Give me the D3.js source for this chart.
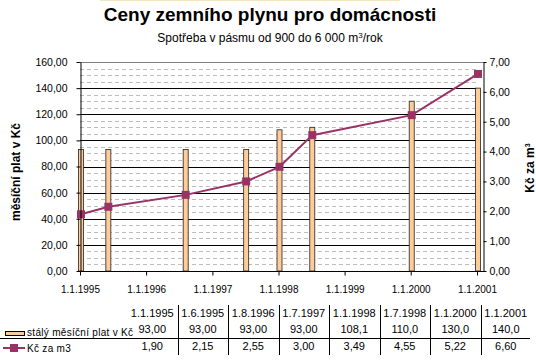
<!DOCTYPE html>
<html>
<head>
<meta charset="utf-8">
<script src="https://cdn.jsdelivr.net/npm/d3@7"></script>
<style>
  body { margin: 0; background: #fff; }
  svg { font-family: "Liberation Sans", Arial, sans-serif; }
</style>
</head>
<body>
<svg id="chart" width="536" height="363"></svg>
<script>
// data
const dates = ["1995-01-01", "1995-06-01", "1996-08-01", "1997-07-01", "1998-01-01", "1998-07-01", "2000-01-01", "2001-01-01"];
const dateLabels = ["1.1.1995", "1.6.1995", "1.8.1996", "1.7.1997", "1.1.1998", "1.7.1998", "1.1.2000", "1.1.2001"];
const platValues = [93, 93, 93, 93, 108.1, 110, 130, 140];
const platLabels = ["93,00", "93,00", "93,00", "93,00", "108,1", "110,0", "130,0", "140,0"];
const cenaValues = [1.90, 2.15, 2.55, 3.00, 3.49, 4.55, 5.22, 6.60];
const cenaLabels = ["1,90", "2,15", "2,55", "3,00", "3,49", "4,55", "5,22", "6,60"];
const yearTicks = [1995, 1996, 1997, 1998, 1999, 2000, 2001];
const leftTicks = [0, 20, 40, 60, 80, 100, 120, 140, 160];
const rightTicks = [0, 1, 2, 3, 4, 5, 6, 7];

const svg = d3.select("#chart");
const parse = d3.timeParse("%Y-%m-%d");
const comma2 = v => d3.format(".2f")(v).replace(".", ",");

const plotLeft = 80, plotRight = 484, plotTop = 62, plotBottom = 271, gridRight = 477;

const x = d3.scaleTime()
    .domain([new Date(1995, 0, 1), new Date(2001, 0, 1)])
    .range([plotLeft, gridRight]);
const y = d3.scaleLinear().domain([0, 160]).range([plotBottom, plotTop]);
const y2 = d3.scaleLinear().domain([0, 7]).range([plotBottom, plotTop]);

// faint line at top edge
svg.append("line")
    .attr("x1", 100).attr("x2", 400).attr("y1", 0.5).attr("y2", 0.5)
    .attr("stroke", "#f3e6bf");

// titles
svg.append("text")
    .attr("x", 270).attr("y", 21)
    .attr("text-anchor", "middle")
    .style("font-size", "19px").style("font-weight", "bold")
    .text("Ceny zemního plynu pro domácnosti");

const sub = svg.append("text")
    .attr("x", 270).attr("y", 42)
    .attr("text-anchor", "middle")
    .style("font-size", "12px");
sub.append("tspan").text("Spotřeba v pásmu od 900 do 6 000 m");
sub.append("tspan").attr("dy", -4).style("font-size", "8px").text("3");
sub.append("tspan").attr("dy", 4).text("/rok");

// grid
const minor = d3.range(5, 160, 5).filter(v => v % 20 !== 0);
svg.append("g").selectAll("line")
    .data(minor)
    .enter()
    .append("line")
    .attr("x1", plotLeft).attr("x2", gridRight)
    .attr("y1", d => Math.round(y(d)) + 0.5)
    .attr("y2", d => Math.round(y(d)) + 0.5)
    .attr("stroke", "#bdbdbd")
    .attr("stroke-dasharray", "4,3");

svg.append("g").selectAll("line")
    .data(leftTicks.filter(v => v > 0 && v < 160))
    .enter()
    .append("line")
    .attr("x1", plotLeft).attr("x2", gridRight)
    .attr("y1", d => Math.round(y(d)) + 0.5)
    .attr("y2", d => Math.round(y(d)) + 0.5)
    .attr("stroke", "#000");

svg.append("line")
    .attr("x1", plotLeft).attr("x2", plotRight)
    .attr("y1", Math.round(y(160)) + 0.5).attr("y2", Math.round(y(160)) + 0.5)
    .attr("stroke", "#808080");

// bars
svg.append("g").selectAll("rect")
    .data(dates.map((d, i) => ({ date: parse(d), v: platValues[i] })))
    .enter()
    .append("rect")
    .attr("x", d => x(d.date) - 1.5)
    .attr("y", d => y(d.v))
    .attr("width", 5)
    .attr("height", d => y(0) - y(d.v))
    .attr("fill", "#ffcc99")
    .attr("stroke", "#222")
    .attr("stroke-width", 0.8);

// line
const pts = dates.map((d, i) => ({ date: parse(d), v: cenaValues[i] }));
svg.append("path")
    .datum(pts)
    .attr("fill", "none")
    .attr("stroke", "#993366")
    .attr("stroke-width", 2)
    .attr("d", d3.line().x(d => x(d.date) + 1).y(d => y2(d.v)));

svg.append("g").selectAll("rect")
    .data(pts)
    .enter()
    .append("rect")
    .attr("x", d => x(d.date) + 1 - 4)
    .attr("y", d => y2(d.v) - 4)
    .attr("width", 8).attr("height", 8)
    .attr("fill", "#993366");

// axes
const leftAxis = svg.append("g")
    .attr("transform", "translate(" + (plotLeft + 0.5) + ",0)")
    .call(d3.axisLeft(y).tickValues(leftTicks).tickSize(4).tickPadding(9).tickSizeOuter(0)
        .tickFormat(comma2));

const rightAxis = svg.append("g")
    .attr("transform", "translate(" + (plotRight - 0.5) + ",0)")
    .call(d3.axisRight(y2).tickValues(rightTicks).tickSize(3).tickPadding(3).tickSizeOuter(0)
        .tickFormat(comma2));

const bottomAxis = svg.append("g")
    .attr("transform", "translate(0," + (plotBottom + 0.5) + ")")
    .call(d3.axisBottom(x).tickValues(yearTicks.map(yy => new Date(yy, 0, 1))).tickSize(4).tickPadding(10)
        .tickSizeOuter(0)
        .tickFormat(d => "1.1." + d.getFullYear()));
bottomAxis.select(".domain").attr("d", "M" + plotLeft + ",0H" + plotRight);

[leftAxis, rightAxis, bottomAxis].forEach(g => {
    g.selectAll("text").style("font-size", "10.5px").attr("fill", "#000")
        .style("font-family", "'Liberation Sans', Arial, sans-serif");
    g.selectAll("line, path").attr("stroke", "#000");
});
bottomAxis.selectAll("text").style("font-size", "10px");

// axis titles
svg.append("text")
    .attr("transform", "translate(20,172) rotate(-90)")
    .attr("text-anchor", "middle")
    .style("font-size", "12px").style("font-weight", "bold")
    .text("měsíční plat v Kč");

const rt = svg.append("text")
    .attr("transform", "translate(534,168) rotate(-90)")
    .attr("text-anchor", "middle")
    .style("font-size", "12px").style("font-weight", "bold");
rt.append("tspan").text("Kč za m");
rt.append("tspan").attr("dy", -4).style("font-size", "7px").text("3");

// data table
const colX = d3.scaleBand().domain(d3.range(dates.length)).range([127, 531]);
const table = svg.append("g").style("font-size", "11px");

table.selectAll(".vline")
    .data(d3.range(1, dates.length))
    .enter()
    .append("line")
    .attr("x1", i => Math.round(colX(i)) + 0.5)
    .attr("x2", i => Math.round(colX(i)) + 0.5)
    .attr("y1", 305).attr("y2", 355)
    .attr("stroke", "#000");

table.append("line")
    .attr("x1", 0).attr("x2", 530).attr("y1", 338.5).attr("y2", 338.5)
    .attr("stroke", "#000");

const rows = [
    { labels: dateLabels, y: 317 },
    { labels: platLabels, y: 333 },
    { labels: cenaLabels, y: 350 }
];
rows.forEach(r => {
    table.selectAll(null)
        .data(r.labels)
        .enter()
        .append("text")
        .attr("x", (d, i) => colX(i) + colX.bandwidth() / 2)
        .attr("y", r.y)
        .attr("text-anchor", "middle")
        .text(d => d);
});

// legend keys
table.append("rect")
    .attr("x", 5.5).attr("y", 331.5).attr("width", 19).attr("height", 4)
    .attr("fill", "#ffcc99").attr("stroke", "#000");
table.append("text")
    .attr("x", 27).attr("y", 336)
    .style("font-size", "10px").style("letter-spacing", "0.3px")
    .text("stálý měsíční plat v Kč");

table.append("line")
    .attr("x1", 3).attr("x2", 25).attr("y1", 348).attr("y2", 348)
    .attr("stroke", "#993366").attr("stroke-width", 2);
table.append("rect")
    .attr("x", 10).attr("y", 344).attr("width", 8).attr("height", 8)
    .attr("fill", "#993366");
table.append("text")
    .attr("x", 27).attr("y", 352)
    .style("font-size", "10px").style("letter-spacing", "0.3px")
    .text("Kč za m3");
</script>
</body>
</html>
